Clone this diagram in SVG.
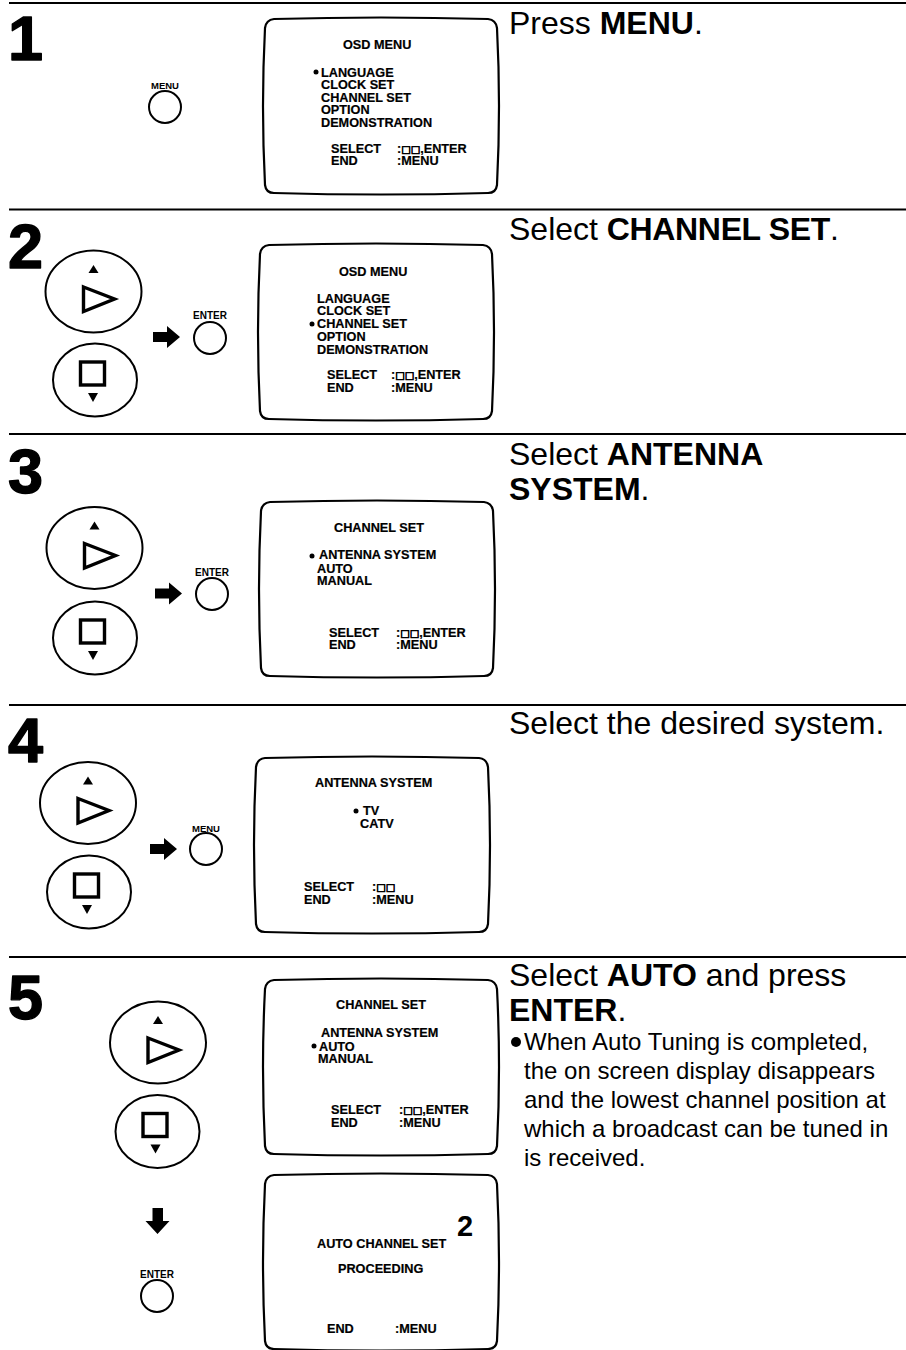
<svg xmlns="http://www.w3.org/2000/svg" width="906" height="1350" viewBox="0 0 906 1350">
<style>
text{font-family:"Liberation Sans",Arial,sans-serif;fill:#000}
.s{font-size:12.7px;font-weight:bold;stroke:#000;stroke-width:.2}
.k{font-size:10px;font-weight:bold;text-anchor:middle}
.n{font-size:63px;font-weight:bold;stroke:#000;stroke-width:1.4;stroke-linejoin:round}
.h{font-size:32px}
.b{font-weight:bold}
.t{letter-spacing:-.35px}
.p{font-size:24px}
.g{font-family:"DejaVu Sans",sans-serif;font-size:10px;stroke:#000;stroke-width:.7}
.o{fill:#fff;stroke:#000;stroke-width:2}
.rule{stroke:#000;stroke-width:2.2}
.scr{fill:#fff;stroke:#000;stroke-width:2.2}
</style>
<defs>
<path id="screen" class="scr" d="M9,1 Q116,-2 223,1 Q231,2 232,10 Q236,88 232,167 Q231,175 223,175 Q116,178 9,175 Q1,175 0,167 Q-4,88 0,10 Q1,2 9,1Z"/>
<g id="up">
<ellipse class="o" rx="48" ry="41"/>
<path d="M-5,-18.5 L0,-26.5 L5,-18.5Z"/>
<path d="M-10,-4.5 L21,7.5 L-10,20Z" fill="#fff" stroke="#000" stroke-width="3.4"/>
</g>
<g id="down">
<ellipse class="o" rx="42" ry="36.5"/>
<rect x="-14.500" y="-18" width="24" height="23" fill="#fff" stroke="#000" stroke-width="3.4"/>
<path d="M-7,13 L3,13 L-2,22Z"/>
</g>
<path id="arr" d="M0,-5 H14 V-11 L27,0 L14,11 V5 H0Z"/>
<circle id="btn" class="o" r="16"/>
</defs>

<g id="rules">
<line class="rule" x1="9" y1="3" x2="906" y2="3"/>
<line class="rule" x1="9" y1="209.500" x2="906" y2="209.500"/>
<line class="rule" x1="9" y1="434" x2="906" y2="434"/>
<line class="rule" x1="9" y1="705" x2="906" y2="705"/>
<line class="rule" x1="9" y1="957" x2="906" y2="957"/>
</g>

<g id="connectors">
<use href="#arr" x="153" y="337"/>
<use href="#arr" x="155" y="593.500"/>
<use href="#arr" x="150" y="849"/>
<path d="M152.500,1208 H163 V1221 H169.500 L157.500,1234 L145.500,1221 H152.500Z"/>
</g>

<g id="step1">
<text class="n" x="8" y="60">1</text>
<text class="k" x="165" y="89" style="font-size:9.500px">MENU</text>
<use href="#btn" x="165" y="107"/>
<g id="screen1">
<use href="#screen" x="265" y="18"/>
<text class="s" x="343" y="49">OSD MENU</text>
<circle cx="316" cy="72" r="2.500"/>
<text class="s" x="321" y="77">LANGUAGE</text>
<text class="s" x="321" y="89">CLOCK SET</text>
<text class="s" x="321" y="102">CHANNEL SET</text>
<text class="s" x="321" y="114">OPTION</text>
<text class="s" x="321" y="127">DEMONSTRATION</text>
<text class="s" x="331" y="153">SELECT</text>
<text class="s" x="397" y="153">:<tspan class="g">□□</tspan>,ENTER</text>
<text class="s" x="331" y="165">END</text>
<text class="s" x="397" y="165">:MENU</text>
</g>
<text class="h" x="509" y="34">Press <tspan class="b">MENU</tspan>.</text>
</g>

<g id="step2">
<text class="n" x="8" y="268">2</text>
<use href="#up" x="93.500" y="291.500"/>
<use href="#down" x="95" y="380"/>
<text class="k" x="210" y="319">ENTER</text>
<use href="#btn" x="210" y="338"/>
<g id="screen2">
<use href="#screen" x="260" y="244"/>
<text class="s" x="339" y="276">OSD MENU</text>
<text class="s" x="317" y="303">LANGUAGE</text>
<text class="s" x="317" y="315">CLOCK SET</text>
<circle cx="312" cy="324" r="2.500"/>
<text class="s" x="317" y="328">CHANNEL SET</text>
<text class="s" x="317" y="341">OPTION</text>
<text class="s" x="317" y="354">DEMONSTRATION</text>
<text class="s" x="327" y="379">SELECT</text>
<text class="s" x="391" y="379">:<tspan class="g">□□</tspan>,ENTER</text>
<text class="s" x="327" y="392">END</text>
<text class="s" x="391" y="392">:MENU</text>
</g>
<text class="h" x="509" y="240">Select <tspan class="b t">CHANNEL SET</tspan>.</text>
</g>

<g id="step3">
<text class="n" x="8" y="493">3</text>
<use href="#up" x="94.500" y="548"/>
<use href="#down" x="95" y="638"/>
<text class="k" x="212" y="576">ENTER</text>
<use href="#btn" x="212" y="594"/>
<g id="screen3">
<use href="#screen" x="261" y="501"/>
<text class="s" x="334" y="532">CHANNEL SET</text>
<circle cx="312" cy="556" r="2.500"/>
<text class="s" x="319" y="559">ANTENNA SYSTEM</text>
<text class="s" x="317" y="573">AUTO</text>
<text class="s" x="317" y="585">MANUAL</text>
<text class="s" x="329" y="637">SELECT</text>
<text class="s" x="396" y="637">:<tspan class="g">□□</tspan>,ENTER</text>
<text class="s" x="329" y="649">END</text>
<text class="s" x="396" y="649">:MENU</text>
</g>
<text class="h" x="509" y="465">Select <tspan class="b">ANTENNA</tspan></text>
<text class="h b" x="509" y="500">SYSTEM<tspan style="font-weight:normal">.</tspan></text>
</g>

<g id="step4">
<text class="n" x="8" y="762">4</text>
<use href="#up" x="88" y="803"/>
<use href="#down" x="89" y="892"/>
<text class="k" x="206" y="832" style="font-size:9.500px">MENU</text>
<use href="#btn" x="206" y="849"/>
<g id="screen4">
<use href="#screen" x="256" y="757"/>
<text class="s" x="315" y="787">ANTENNA SYSTEM</text>
<circle cx="356" cy="811" r="2.500"/>
<text class="s" x="363" y="815">TV</text>
<text class="s" x="360" y="828">CATV</text>
<text class="s" x="304" y="891">SELECT</text>
<text class="s" x="372" y="891">:<tspan class="g">□□</tspan></text>
<text class="s" x="304" y="904">END</text>
<text class="s" x="372" y="904">:MENU</text>
</g>
<text class="h" x="509" y="734">Select the desired system.</text>
</g>

<g id="step5">
<text class="n" x="8" y="1019">5</text>
<use href="#up" x="158" y="1042.500"/>
<use href="#down" x="157.500" y="1131.500"/>
<text class="k" x="157" y="1278">ENTER</text>
<use href="#btn" x="157" y="1296"/>
<g id="screen5a">
<use href="#screen" x="265" y="979"/>
<text class="s" x="336" y="1009">CHANNEL SET</text>
<text class="s" x="321" y="1037">ANTENNA SYSTEM</text>
<circle cx="314" cy="1046" r="2.500"/>
<text class="s" x="319" y="1051">AUTO</text>
<text class="s" x="318" y="1063">MANUAL</text>
<text class="s" x="331" y="1114">SELECT</text>
<text class="s" x="399" y="1114">:<tspan class="g">□□</tspan>,ENTER</text>
<text class="s" x="331" y="1127">END</text>
<text class="s" x="399" y="1127">:MENU</text>
</g>
<g id="screen5b">
<use href="#screen" x="265" y="1174"/>
<text class="b" x="457" y="1236" style="font-size:29px">2</text>
<text class="s" x="317" y="1248">AUTO CHANNEL SET</text>
<text class="s" x="338" y="1273">PROCEEDING</text>
<text class="s" x="327" y="1333">END</text>
<text class="s" x="395" y="1333">:MENU</text>
</g>
<text class="h" x="509" y="986">Select <tspan class="b">AUTO</tspan> and press</text>
<text class="h b" x="509" y="1021">ENTER<tspan style="font-weight:normal">.</tspan></text>
<circle cx="516" cy="1042" r="5"/>
<text class="p" x="524" y="1050">When Auto Tuning is completed,</text>
<text class="p" x="524" y="1079">the on screen display disappears</text>
<text class="p" x="524" y="1108">and the lowest channel position at</text>
<text class="p" x="524" y="1137">which a broadcast can be tuned in</text>
<text class="p" x="524" y="1166">is received.</text>
</g>
</svg>
